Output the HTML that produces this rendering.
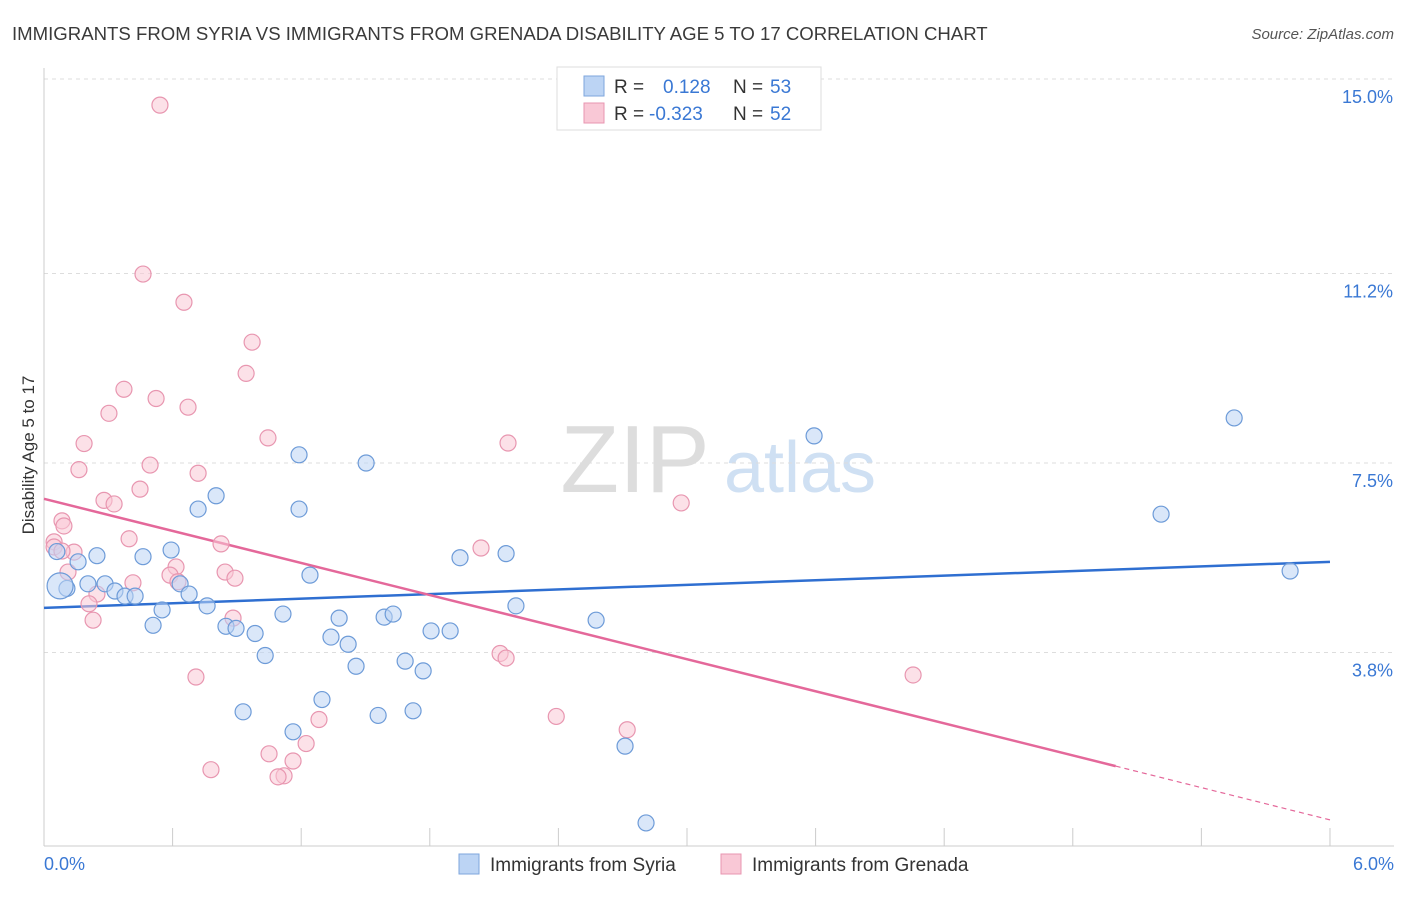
<!DOCTYPE html>
<html><head><meta charset="utf-8"><style>
body{margin:0;background:#fff;font-family:"Liberation Sans",sans-serif;}
svg text{font-family:"Liberation Sans",sans-serif;}
</style></head><body>
<svg id="chart" width="1406" height="892">
<text x="12" y="40" font-size="18.6" fill="#3a3a3a">IMMIGRANTS FROM SYRIA VS IMMIGRANTS FROM GRENADA DISABILITY AGE 5 TO 17 CORRELATION CHART</text>
<text x="1394" y="39" font-size="15" fill="#555" font-style="italic" text-anchor="end">Source: ZipAtlas.com</text>
<text x="0" y="0" transform="translate(34,455) rotate(-90)" font-size="17" fill="#333" text-anchor="middle">Disability Age 5 to 17</text>
<text x="635" y="492" font-size="96" fill="#ddd" font-family="Liberation Serif" text-anchor="middle">ZIP</text>
<text x="800" y="492" font-size="72" fill="#cfe0f3" text-anchor="middle">atlas</text>
<g id="grid"></g><g id="axes"></g><g id="trend"></g><g id="pts"></g>
<g>
<rect x="557" y="67" width="264" height="63" fill="#fff" stroke="#ddd"/>
<rect x="584" y="76" width="20" height="20" fill="#bcd4f4" stroke="#7ea6dd"/>
<rect x="584" y="103" width="20" height="20" fill="#f9c8d6" stroke="#e896b0"/>
<text x="614" y="93" font-size="19" fill="#333">R = </text><text x="663" y="93" font-size="19" fill="#3a78d4">0.128</text>
<text x="733" y="93" font-size="19" fill="#333">N = </text><text x="770" y="93" font-size="19" fill="#3a78d4">53</text>
<text x="614" y="120" font-size="19" fill="#333">R = </text><text x="649" y="120" font-size="19" fill="#3a78d4">-0.323</text>
<text x="733" y="120" font-size="19" fill="#333">N = </text><text x="770" y="120" font-size="19" fill="#3a78d4">52</text>
</g>
<g>
<rect x="459" y="854" width="20" height="20" fill="#bcd4f4" stroke="#7ea6dd"/>
<text x="490" y="871" font-size="19" fill="#333">Immigrants from Syria</text>
<rect x="721" y="854" width="20" height="20" fill="#f9c8d6" stroke="#e896b0"/>
<text x="752" y="871" font-size="19" fill="#333">Immigrants from Grenada</text>
</g>
</svg>
<script>
const yTicks=[15.0,11.2,7.5,3.8];
const yTickLabels=["15.0%","11.2%","7.5%","3.8%"];
const xTickLabels=["0.0%","6.0%"];
const syriaX=[0.06,0.107,0.075,0.247,0.159,0.205,0.285,0.331,0.378,0.425,0.462,0.509,0.551,0.593,0.635,0.677,0.719,0.761,0.803,0.849,0.896,0.985,1.032,0.929,1.115,1.162,1.19,1.19,1.241,1.297,1.339,1.377,1.419,1.456,1.503,1.559,1.587,1.629,1.685,1.722,1.769,1.806,1.895,1.941,2.156,2.202,2.576,2.711,2.809,3.593,5.212,5.553,5.814];
const syriaY=[5.77,5.05,5.1,5.69,5.57,5.14,5.14,5.0,4.9,4.9,5.67,4.33,4.63,5.8,5.14,4.94,6.6,4.71,6.86,4.31,4.27,4.17,3.74,2.64,4.55,2.25,7.66,6.6,5.31,2.88,4.1,4.47,3.96,3.53,7.5,2.57,4.49,4.55,3.63,2.66,3.44,4.22,4.22,5.65,5.73,4.71,4.43,1.97,0.47,8.03,6.5,8.38,5.39];
const grenX=[0.541,0.462,0.653,0.971,0.943,0.373,0.523,0.672,0.303,0.187,1.045,2.165,0.495,0.163,0.719,0.448,0.28,0.327,2.973,0.084,0.093,0.047,0.397,0.826,2.039,0.14,0.047,0.616,0.588,0.845,0.891,0.112,0.415,0.625,0.247,0.21,0.882,0.229,2.128,2.156,0.709,4.055,2.39,1.283,2.721,1.223,1.05,1.162,0.779,1.12,1.092,0.084];
const grenY=[14.49,11.19,10.64,9.86,9.25,8.94,8.76,8.59,8.47,7.88,7.99,7.89,7.46,7.37,7.3,6.99,6.77,6.7,6.72,6.37,6.27,5.96,6.02,5.92,5.84,5.76,5.86,5.47,5.31,5.37,5.25,5.37,5.16,5.18,4.94,4.75,4.47,4.43,3.78,3.69,3.32,3.36,2.55,2.49,2.29,2.02,1.82,1.68,1.51,1.39,1.37,5.78];
const syriaTrend=[0,4.67,6,5.57];
const grenTrend=[0,6.8,5,1.58,6,0.53];
const X=v=>44+v*214.33, Y=v=>79+(15-v)*51.2;
const NS="http://www.w3.org/2000/svg";
function mk(t,a,p){const e=document.createElementNS(NS,t);for(const k in a)e.setAttribute(k,a[k]);p.appendChild(e);return e;}
const grid=document.getElementById('grid'),axes=document.getElementById('axes'),tr=document.getElementById('trend'),pts=document.getElementById('pts');
yTicks.forEach((v,i)=>{
 const l=mk('line',{x1:44,x2:1394,y1:Y(v),y2:Y(v),stroke:'#ddd','stroke-dasharray':'4,4'},grid);
 
 
 const t=mk('text',{x:1393,y:Y(v)+24,'font-size':18,fill:'#3a78d4','text-anchor':'end'},axes);t.textContent=yTickLabels[i];
 
 
});
const ya=mk('line',{x1:44,x2:44,y1:68,y2:846,stroke:'#ccc'},axes);


const xa=mk('line',{x1:44,x2:1394,y1:846,y2:846,stroke:'#ccc'},axes);


for(let i=0;i<=10;i++){const x=X(i*0.6);const t=mk('line',{x1:x,x2:x,y1:828,y2:846,stroke:'#ccc'},axes);
 
 }
[[0,'start',44],[1,'end',1394]].forEach(([i,a,x])=>{const t=mk('text',{x:x,y:870,'font-size':18,fill:'#3a78d4','text-anchor':a},axes);t.textContent=xTickLabels[i];
 
 });
function dot(x,y,f,s,r,name){const c=mk('circle',{cx:X(x),cy:Y(y),r:r,fill:f,'fill-opacity':0.55,stroke:s,'stroke-width':1.2},pts);
 
 }
grenX.forEach((x,i)=>dot(x,grenY[i],'#f9c8d6','#e896b0',8,'grenada-point'));
syriaX.forEach((x,i)=>dot(x,syriaY[i],'#bcd4f4','#6d9bd8',i==2?13:8,'syria-point'));
const sl=mk('line',{x1:X(syriaTrend[0]),y1:Y(syriaTrend[1]),x2:X(syriaTrend[2]),y2:Y(syriaTrend[3]),stroke:'#2f6fd1','stroke-width':2.5},tr);


const gl=mk('line',{x1:X(grenTrend[0]),y1:Y(grenTrend[1]),x2:X(grenTrend[2]),y2:Y(grenTrend[3]),stroke:'#e4689a','stroke-width':2.5},tr);


const gd=mk('line',{x1:X(grenTrend[2]),y1:Y(grenTrend[3]),x2:X(grenTrend[4]),y2:Y(grenTrend[5]),stroke:'#e4689a','stroke-width':1.2,'stroke-dasharray':'5,4'},tr);


</script>
</body></html>
